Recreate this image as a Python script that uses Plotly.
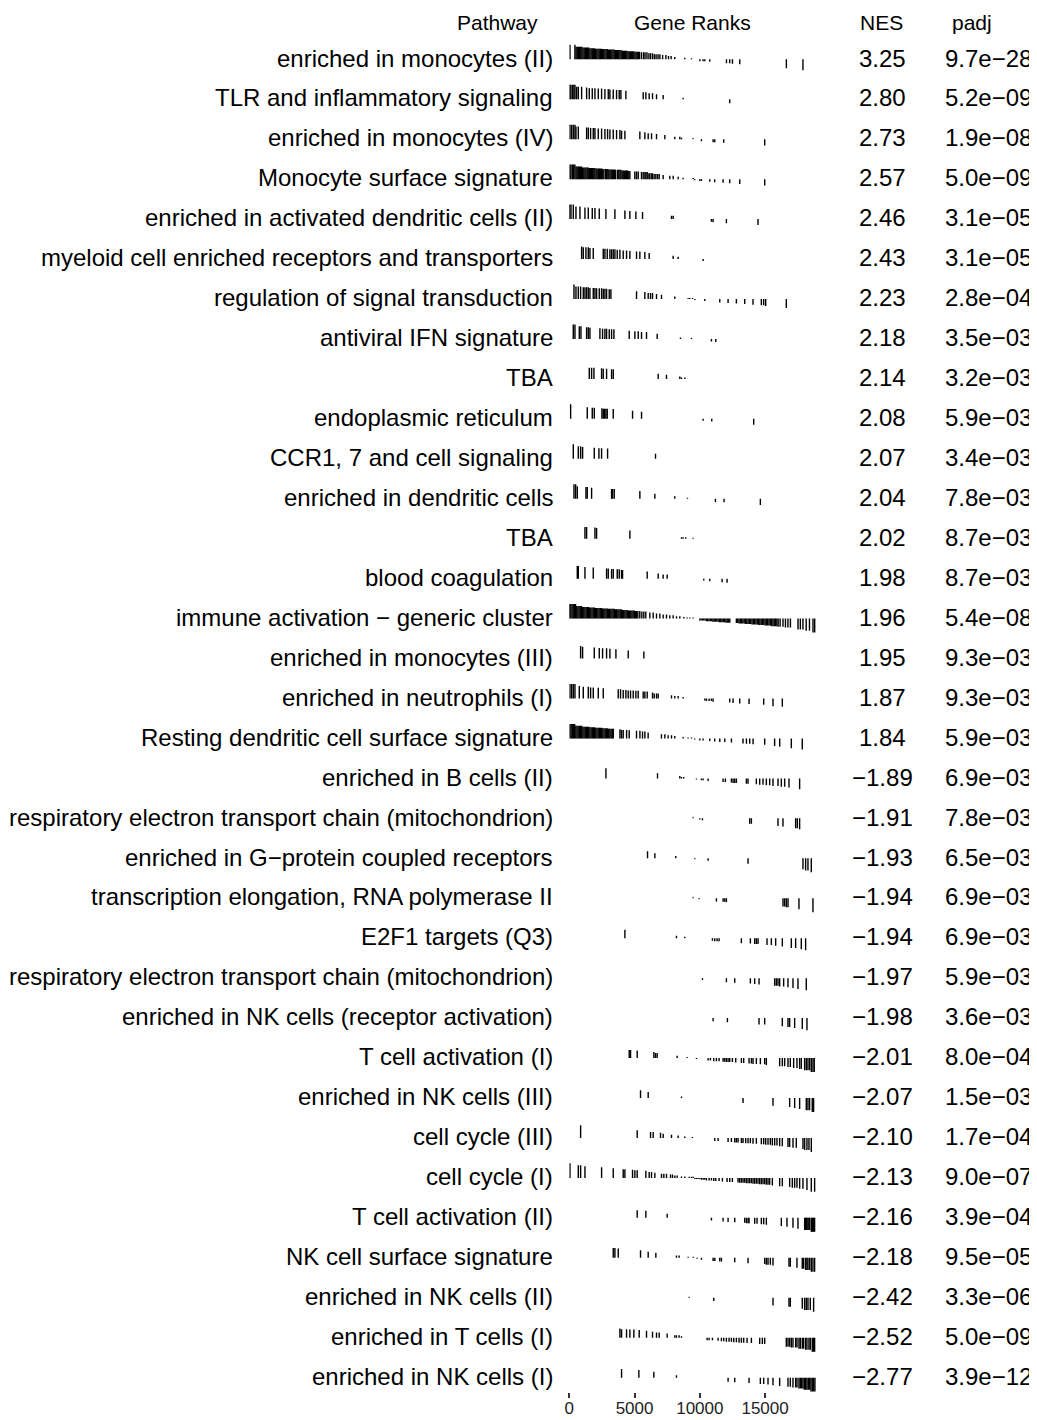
import plotly.graph_objects as go

# ---------------- data ----------------
pathways = [
    "enriched in monocytes (II)",
    "TLR and inflammatory signaling",
    "enriched in monocytes (IV)",
    "Monocyte surface signature",
    "enriched in activated dendritic cells (II)",
    "myeloid cell enriched receptors and transporters",
    "regulation of signal transduction",
    "antiviral IFN signature",
    "TBA",
    "endoplasmic reticulum",
    "CCR1, 7 and cell signaling",
    "enriched in dendritic cells",
    "TBA",
    "blood coagulation",
    "immune activation \u2212 generic cluster",
    "enriched in monocytes (III)",
    "enriched in neutrophils (I)",
    "Resting dendritic cell surface signature",
    "enriched in B cells (II)",
    "respiratory electron transport chain (mitochondrion)",
    "enriched in G\u2212protein coupled receptors",
    "transcription elongation, RNA polymerase II",
    "E2F1 targets (Q3)",
    "respiratory electron transport chain (mitochondrion)",
    "enriched in NK cells (receptor activation)",
    "T cell activation (I)",
    "enriched in NK cells (III)",
    "cell cycle (III)",
    "cell cycle (I)",
    "T cell activation (II)",
    "NK cell surface signature",
    "enriched in NK cells (II)",
    "enriched in T cells (I)",
    "enriched in NK cells (I)",
]

nes = [3.25, 2.80, 2.73, 2.57, 2.46, 2.43, 2.23, 2.18, 2.14, 2.08, 2.07, 2.04,
       2.02, 1.98, 1.96, 1.95, 1.87, 1.84, -1.89, -1.91, -1.93, -1.94, -1.94,
       -1.97, -1.98, -2.01, -2.07, -2.10, -2.13, -2.16, -2.18, -2.42, -2.52, -2.77]

padj = [9.7e-28, 5.2e-09, 1.9e-08, 5.0e-09, 3.1e-05, 3.1e-05, 2.8e-04, 3.5e-03,
        3.2e-03, 5.9e-03, 3.4e-03, 7.8e-03, 8.7e-03, 8.7e-03, 5.4e-08, 9.3e-03,
        9.3e-03, 5.9e-03, 6.9e-03, 7.8e-03, 6.5e-03, 6.9e-03, 6.9e-03, 5.9e-03,
        3.6e-03, 8.0e-04, 1.5e-03, 1.7e-04, 9.0e-07, 3.9e-04, 9.5e-05, 3.3e-06,
        5.0e-09, 3.9e-12]

# gene positions (ranks) of each pathway's genes in the ranked list
r01 = [51, 430, 520, 610, 700, 790, 880, 960, 1050, 1140, 1230, 1320, 1400, 1490,
       1580, 1670, 1760, 1850, 1930, 2020, 2110, 2200, 2290, 2380, 2460, 2550, 2640,
       2730, 2820, 2910, 3000, 3080, 3170, 3260, 3350, 3440, 3530, 3610, 3700, 3790,
       3880, 3970, 4060, 4140, 4230, 4320, 4410, 4500, 4590, 4670, 4760, 4850, 4940,
       5030, 5120, 5200, 5290, 5380, 5530, 5690, 5800, 5950, 6100, 6230, 6380, 6520,
       6650, 6800, 6940, 7150, 7400, 7600, 7800, 8080, 8850, 9360, 10000, 10250,
       10380, 10760, 12040, 12290, 12500, 13060, 16630, 17900]
r02 = [51, 128, 255, 357, 434, 561, 689, 944, 1326, 1530, 1760, 1964, 2219, 2474,
       2729, 2984, 3111, 3366, 3621, 3825, 3953, 4335, 5661, 5865, 6120, 6375, 6681,
       7191, 8721, 12291]
r03 = [51, 179, 306, 434, 510, 689, 1326, 1454, 1632, 1836, 1964, 2219, 2474, 2729,
       2933, 3111, 3366, 3621, 3876, 4004, 4259, 5406, 5789, 6044, 6299, 6681, 7319,
       8084, 8466, 8594, 9486, 10124, 11016, 11144, 11832, 14969]
r04 = [51, 130, 250, 330, 430, 520, 600, 690, 770, 850, 940, 1020, 1110, 1200, 1280,
       1370, 1450, 1540, 1620, 1710, 1790, 1880, 1960, 2050, 2130, 2220, 2300, 2390,
       2480, 2560, 2650, 2780, 2860, 2950, 3030, 3120, 3210, 3290, 3380, 3460, 3550,
       3700, 3790, 3880, 3960, 4050, 4130, 4220, 4300, 4390, 4470, 4560, 4640, 5020,
       5150, 5280, 5530, 5660, 5790, 5870, 5970, 6100, 6170, 6300, 6380, 6500, 6630,
       6760, 6890, 7190, 7700, 7960, 8340, 8720, 9490, 9610, 10000, 10120, 10760,
       11140, 11780, 12290, 13060, 14970]
r05 = [20, 128, 306, 510, 816, 1199, 1454, 1760, 1964, 2295, 2805, 3494, 4259, 4641,
       5100, 5610, 7829, 7956, 10889, 11016, 12036, 14459]
r06 = [944, 1071, 1275, 1454, 1581, 1836, 2601, 2729, 2907, 3111, 3239, 3366, 3494,
       3672, 3876, 4131, 4386, 4641, 5151, 5406, 5789, 6120, 7956, 8339, 10251]
r07 = [357, 510, 689, 867, 1071, 1199, 1326, 1454, 1581, 1836, 1964, 2091, 2295,
       2474, 2601, 2729, 2856, 3060, 3188, 5151, 5789, 6044, 6222, 6375, 6681, 7064,
       8084, 9104, 9231, 9435, 9614, 10379, 11526, 12164, 12801, 13439, 14076, 14714,
       14892, 15045, 16626]
r08 = [306, 434, 765, 893, 1326, 1454, 1581, 2346, 2550, 2729, 2856, 3060, 3239,
       3417, 4590, 5024, 5279, 5534, 5916, 6732, 8517, 9359, 10889, 11220]
r09 = [1530, 1709, 1887, 2474, 2601, 2856, 3239, 3366, 6809, 7446, 8466, 8594, 8849]
r10 = [102, 1377, 1760, 1913, 2499, 2601, 2703, 2805, 2907, 3366, 4845, 5534, 10251,
       10914, 14127]
r11 = [306, 689, 867, 1020, 1913, 2270, 2474, 2933, 6605]
r12 = [357, 485, 612, 1275, 1377, 1709, 3239, 3315, 3443, 5406, 6554, 8084, 9053,
       11195, 11858, 14637]
r13 = [1199, 1326, 1964, 2091, 4641, 8594, 8721, 8925, 9486]
r14 = [612, 689, 1199, 1836, 2856, 2984, 3239, 3366, 3672, 3825, 4004, 4080, 5967,
       6809, 7191, 7497, 10302, 10761, 11705, 12087]
r15 = [30, 120, 210, 300, 390, 480, 570, 660, 750, 840, 930, 1020, 1110, 1200, 1290,
       1380, 1470, 1560, 1650, 1740, 1830, 1920, 2010, 2100, 2190, 2280, 2370, 2460,
       2550, 2640, 2730, 2820, 2910, 3000, 3090, 3180, 3270, 3360, 3450, 3540, 3630,
       3720, 3810, 3900, 3990, 4080, 4170, 4260, 4350, 4440, 4530, 4620, 4710, 4800,
       4890, 4980, 5070, 5160, 5250, 5400, 5560, 5710, 5860, 6171, 6426, 6681, 6936,
       7191, 7446, 7701, 7956, 8211, 8466, 8772, 9027, 9231, 9486, 10000, 10100,
       10200, 10300, 10400, 10500, 10600, 10700, 10800, 10900, 11000, 11100, 11200,
       11300, 11400, 11500, 11600, 11700, 11800, 11900, 12000, 12100, 12200, 12300,
       12800, 12900, 13000, 13100, 13200, 13300, 13400, 13500, 13600, 13700, 13800,
       13900, 14000, 14100, 14200, 14300, 14400, 14500, 14600, 14700, 14800, 14900,
       15000, 15100, 15200, 15300, 15400, 15500, 15600, 15700, 15800, 15900, 16000,
       16150, 16370, 16560, 16750, 16940, 17520, 17700, 17900, 18150, 18400, 18670,
       18800]
r16 = [867, 1020, 1913, 2295, 2550, 2856, 3111, 3570, 4514, 5712]
r17 = [51, 179, 306, 434, 765, 1071, 1454, 1632, 1836, 2219, 2601, 3749, 3927, 4131,
       4335, 4514, 4692, 4896, 5100, 5279, 5661, 5789, 5967, 6375, 6503, 6681, 6809,
       7829, 8084, 8339, 8721, 10379, 10506, 10710, 10889, 11016, 12291, 12546, 13056,
       13770, 14892, 15606, 16320]
r18 = [51, 140, 230, 320, 410, 500, 590, 680, 770, 860, 950, 1040, 1130, 1220, 1310,
       1400, 1490, 1580, 1670, 1760, 1850, 1940, 2030, 2120, 2210, 2300, 2390, 2480,
       2570, 2660, 2750, 2840, 2930, 3020, 3110, 3200, 3290, 3370, 3880, 4000, 4130,
       4390, 4590, 5150, 5410, 5610, 5790, 6040, 7060, 7320, 7570, 7830, 8080, 8720,
       9100, 9360, 9610, 10000, 10250, 10760, 11140, 11530, 11910, 12420, 13310,
       13570, 13820, 14080, 14970, 15730, 16120, 17010, 17850]
r19 = [2805, 6758, 8466, 8594, 8772, 9741, 10124, 10251, 10634, 11781, 11960, 12419,
       12546, 12674, 12801, 13566, 13694, 14331, 14586, 14841, 15096, 15351, 15606,
       15989, 16244, 16499, 16830, 17646]
r20 = [9486, 9996, 10200, 13821, 13949, 15989, 16371, 17340, 17468, 17646]
r21 = [5993, 6554, 8160, 9614, 10634, 13694, 17901, 18105, 18284, 18539]
r22 = [9486, 9945, 11271, 11781, 11909, 12036, 16371, 16499, 16626, 16754, 17595,
       18666]
r23 = [4259, 8211, 8849, 10965, 11144, 11322, 11475, 13184, 13872, 14204, 14331,
       14459, 15147, 15479, 15810, 16320, 17009, 17340, 17774, 18105]
r24 = [10200, 12036, 12674, 13872, 14204, 14535, 15734, 15861, 15989, 16116, 16422,
       16754, 17137, 17518, 18156]
r25 = [11016, 12113, 14535, 14969, 16320, 16754, 16881, 17264, 17850, 18207]
r26 = [4590, 4692, 5202, 6477, 6605, 6732, 8262, 9027, 9741, 10634, 10812, 11067,
       11271, 11475, 11781, 11909, 12036, 12164, 12291, 12495, 12750, 13184, 13362,
       13770, 13949, 14076, 14331, 14637, 14969, 15096, 16116, 16320, 16499, 16754,
       16932, 17187, 17442, 17646, 17774, 18029, 18156, 18284, 18411, 18539, 18666,
       18768]
r27 = [5457, 6044, 8594, 13311, 15606, 16881, 17264, 17646, 18156, 18284, 18411,
       18615, 18717]
r28 = [867, 5202, 6222, 6426, 6987, 7191, 7829, 8339, 8849, 9435, 11144, 11399,
       12164, 12419, 12674, 12801, 12929, 13184, 13311, 13515, 13694, 13872, 14076,
       14331, 14714, 14892, 15045, 15224, 15402, 15555, 15734, 15912, 16116, 16320,
       16754, 16881, 17137, 17391, 17901, 18029, 18207, 18360, 18539]
r29 = [51, 689, 867, 1199, 2474, 3366, 4131, 4259, 4845, 5024, 5202, 5865, 6120,
       6299, 6554, 7064, 7242, 7446, 7752, 7905, 8084, 8262, 8594, 8849, 9180, 9359,
       9486, 9614, 9741, 9869, 9996, 10124, 10251, 10379, 10506, 10710, 10889, 11067,
       11220, 11475, 11730, 12087, 12291, 12495, 12929, 13056, 13184, 13311, 13439,
       13566, 13694, 13821, 13949, 14076, 14204, 14331, 14459, 14586, 14714, 14841,
       14969, 15096, 15224, 15351, 15555, 16116, 16320, 16881, 17085, 17264, 17442,
       17646, 17901, 18207, 18539, 18794]
r30 = [5202, 5865, 7497, 10889, 11781, 12164, 12674, 13439, 13566, 13694, 13770,
       14204, 14382, 14714, 14892, 15096, 16244, 16677, 17136, 17519, 18029, 18105,
       18156, 18207, 18284, 18360, 18411, 18539, 18615, 18666, 18717, 18794]
r31 = [3366, 3494, 3749, 5457, 6044, 6630, 8211, 8415, 9104, 9486, 9792, 10124,
       11016, 11144, 11526, 11654, 12674, 13694, 14969, 15096, 15224, 15402, 15606,
       16830, 16932, 17442, 17850, 17952, 18105, 18207, 18284, 18411, 18539, 18666,
       18794]
r32 = [9180, 11067, 15606, 16830, 16932, 17850, 18029, 18156, 18284, 18462, 18717]
r33 = [3876, 4004, 4386, 4641, 4947, 5355, 5916, 6375, 6681, 6885, 7497, 8084, 8211,
       8415, 8594, 10557, 10710, 10965, 11399, 11654, 11832, 12036, 12240, 12419,
       12597, 12801, 13005, 13184, 13362, 13617, 13949, 14586, 14790, 14969, 16626,
       16754, 16881, 17009, 17136, 17340, 17442, 17595, 17697, 17850, 17952, 18105,
       18207, 18360, 18462, 18615, 18717, 18794]
r34 = [4004, 5330, 6477, 8211, 12164, 12674, 13770, 14637, 14892, 15224, 15606,
       16116, 16754, 16932, 17136, 17340, 17442, 17595, 17697, 17799, 17901, 18003,
       18105, 18207, 18309, 18411, 18513, 18615, 18717, 18819]

gene_ranks = [r01, r02, r03, r04, r05, r06, r07, r08, r09, r10, r11, r12, r13, r14,
              r15, r16, r17, r18, r19, r20, r21, r22, r23, r24, r25, r26, r27, r28,
              r29, r30, r31, r32, r33, r34]

# scaled ranked statistic (tick height), one value per block of 500 ranks
rank_stat_bins = [0.97, 0.84, 0.78, 0.74, 0.71, 0.68, 0.65, 0.62, 0.57, 0.54,
                  0.51, 0.47, 0.40, 0.34, 0.28, 0.22, 0.16, 0.10, 0.05, -0.04,
                  -0.13, -0.17, -0.21, -0.24, -0.27, -0.30, -0.33, -0.36, -0.39,
                  -0.42, -0.46, -0.51, -0.55, -0.60, -0.66, -0.73, -0.81, -0.93]
stat_bin_width = 500
n_genes = 18900
axis_ticks = [0, 5000, 10000, 15000]

# ---------------- styling ----------------
PAGE_OFF = 8                      # default page margin around the figure
W, H = 1037 - PAGE_OFF, 1420 - PAGE_OFF
FONT = "Liberation Sans, Arial, Helvetica, sans-serif"
TEXT_SIZE = 24
HEAD_SIZE = 21
row_px = 39.95
first_row_px = 58.0 - PAGE_OFF
plot_bottom_px = 1392 - PAGE_OFF
tick_half_px = 15.0
base_offset_px = 1.3

y_top = -first_row_px / row_px
y_bot = (plot_bottom_px - first_row_px) / row_px
tick_scale = tick_half_px / row_px
base_off = base_offset_px / row_px


def px(x_ref):
    return (x_ref - PAGE_OFF) / W


def fmt_minus(s):
    return s.replace("-", "\u2212")


xs, ys = [], []
for i, ranks in enumerate(gene_ranks):
    for r in ranks:
        h = rank_stat_bins[min(int(r // stat_bin_width), len(rank_stat_bins) - 1)]
        if abs(h) < 0.07:
            h = 0.07 if h >= 0 else -0.07
        xs += [r, r, None]
        ys += [i + base_off, i + base_off - h * tick_scale, None]

fig = go.Figure()
fig.add_trace(go.Scatter(x=xs, y=ys, mode="lines",
                         line=dict(color="black", width=1.4),
                         hoverinfo="skip", showlegend=False))

annotations = []
header_y = (22 - 58.0) / row_px

for txt, xx in [("Pathway", px(497)), ("Gene Ranks", px(692.5)),
                ("NES", px(881)), ("padj", px(972))]:
    annotations.append(dict(x=xx, y=header_y, xref="paper", yref="y", text=txt,
                            showarrow=False, xanchor="center", yanchor="middle",
                            font=dict(family=FONT, size=HEAD_SIZE, color="black")))

for i, name in enumerate(pathways):
    annotations.append(dict(x=px(555), y=i, xref="paper", yref="y", text=name,
                            showarrow=False, xanchor="right", yanchor="middle",
                            font=dict(family=FONT, size=TEXT_SIZE, color="black")))
    annotations.append(dict(x=px(882), y=i, xref="paper", yref="y",
                            text=fmt_minus(f"{nes[i]:.2f}"),
                            showarrow=False, xanchor="center", yanchor="middle",
                            font=dict(family=FONT, size=TEXT_SIZE, color="black")))
    annotations.append(dict(x=px(988), y=i, xref="paper", yref="y",
                            text=fmt_minus(f"{padj[i]:.1e}"),
                            showarrow=False, xanchor="center", yanchor="middle",
                            font=dict(family=FONT, size=TEXT_SIZE, color="black")))

fig.update_layout(
    width=W, height=H,
    margin=dict(l=0, r=0, t=0, b=H - plot_bottom_px, pad=0),
    paper_bgcolor="white", plot_bgcolor="white",
    annotations=annotations,
    xaxis=dict(domain=[px(569.3), px(816.0)], range=[0, n_genes], automargin=False,
               showgrid=False, zeroline=False, showline=False,
               ticks="outside", ticklen=5, tickwidth=1.5, tickcolor="#333333",
               ticklabelstandoff=-4,
               tickvals=axis_ticks, ticktext=[str(t) for t in axis_ticks],
               tickfont=dict(family=FONT, size=17, color="#222222")),
    yaxis=dict(domain=[0, 1], range=[y_bot, y_top], visible=False, automargin=False,
               showgrid=False, zeroline=False),
)

fig.write_html("out.html")
